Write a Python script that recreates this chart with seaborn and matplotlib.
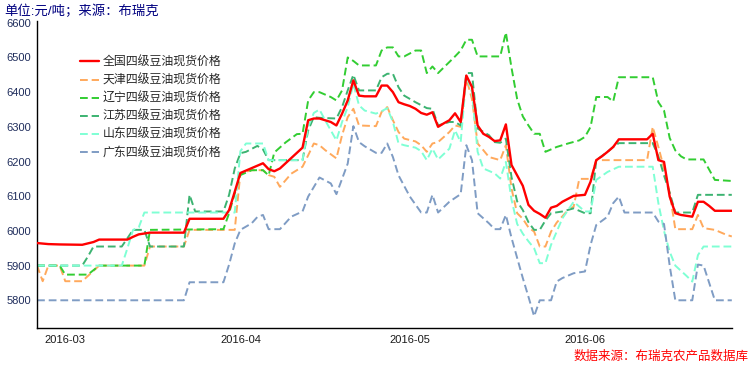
import pandas as pd
import matplotlib
matplotlib.use('Agg')
import matplotlib.pyplot as plt
import matplotlib.dates as mdates
import seaborn as sns

YEAR = '2016-'

# (month-day, price), yuan/ton
national = [('02-25', 5965), ('02-27', 5962), ('02-29', 5961), ('03-04', 5960), ('03-06', 5968), ('03-07', 5975),
            ('03-12', 5975), ('03-13', 5983), ('03-14', 5990), ('03-16', 5995), ('03-22', 5995), ('03-23', 6035),
            ('03-29', 6035), ('03-30', 6060), ('03-31', 6113), ('04-01', 6167), ('04-05', 6195), ('04-06', 6178),
            ('04-07', 6172), ('04-08', 6180), ('04-09', 6195), ('04-10', 6210), ('04-11', 6225), ('04-12', 6240),
            ('04-13', 6319), ('04-14', 6324), ('04-15', 6324), ('04-16', 6319), ('04-17', 6314), ('04-18', 6304),
            ('04-19', 6338), ('04-20', 6376), ('04-21', 6434), ('04-22', 6390), ('04-23', 6388), ('04-25', 6388),
            ('04-26', 6419), ('04-27', 6419), ('04-28', 6400), ('04-29', 6371), ('04-30', 6365), ('05-01', 6360),
            ('05-02', 6352), ('05-03', 6340), ('05-04', 6335), ('05-05', 6342), ('05-06', 6300), ('05-07', 6310),
            ('05-08', 6319), ('05-09', 6339), ('05-10', 6314), ('05-11', 6448), ('05-12', 6415), ('05-13', 6304),
            ('05-14', 6280), ('05-15', 6271), ('05-16', 6259), ('05-17', 6261), ('05-18', 6307), ('05-19', 6190),
            ('05-20', 6160), ('05-21', 6130), ('05-22', 6075), ('05-23', 6058), ('05-24', 6049), ('05-25', 6038),
            ('05-26', 6067), ('05-27', 6072), ('05-28', 6084), ('05-30', 6101), ('06-01', 6104), ('06-02', 6142),
            ('06-03', 6204), ('06-04', 6215), ('06-05', 6228), ('06-06', 6242), ('06-07', 6264), ('06-12', 6264),
            ('06-13', 6280), ('06-14', 6204), ('06-15', 6199), ('06-16', 6099), ('06-17', 6051), ('06-18', 6046),
            ('06-20', 6041), ('06-21', 6084), ('06-22', 6084), ('06-23', 6072), ('06-24', 6058), ('06-27', 6058)]

tianjin = [('02-25', 5900), ('02-26', 5855), ('02-27', 5900), ('02-29', 5900), ('03-01', 5855), ('03-04', 5855),
           ('03-07', 5900), ('03-15', 5900), ('03-16', 5955), ('03-22', 5955), ('03-23', 6003), ('03-31', 6003),
           ('04-01', 6166), ('04-03', 6175), ('04-05', 6175), ('04-06', 6161), ('04-07', 6156), ('04-08', 6127),
           ('04-10', 6165), ('04-11', 6175), ('04-12', 6185), ('04-13', 6218), ('04-14', 6252), ('04-15', 6247),
           ('04-16', 6233), ('04-18', 6209), ('04-19', 6276), ('04-20', 6328), ('04-21', 6352), ('04-22', 6304),
           ('04-25', 6302), ('04-26', 6343), ('04-27', 6357), ('04-28', 6319), ('04-29', 6285), ('04-30', 6266),
           ('05-02', 6258), ('05-03', 6247), ('05-04', 6228), ('05-05', 6252), ('05-06', 6256), ('05-08', 6285),
           ('05-09', 6304), ('05-10', 6300), ('05-11', 6440), ('05-12', 6380), ('05-13', 6252), ('05-14', 6233),
           ('05-15', 6213), ('05-17', 6204), ('05-18', 6247), ('05-19', 6122), ('05-20', 6051), ('05-21', 6035),
           ('05-22', 6010), ('05-23', 5998), ('05-24', 5955), ('05-25', 5955), ('05-26', 5998), ('05-27', 6024),
           ('05-29', 6060), ('05-30', 6070), ('05-31', 6150), ('06-02', 6150), ('06-03', 6204), ('06-12', 6204),
           ('06-13', 6300), ('06-14', 6242), ('06-15', 6180), ('06-16', 6110), ('06-17', 6005), ('06-20', 6005),
           ('06-21', 6046), ('06-22', 6008), ('06-24', 6003), ('06-26', 5989), ('06-27', 5984)]

liaoning = [('02-25', 5900), ('02-29', 5900), ('03-01', 5874), ('03-05', 5874), ('03-07', 5900), ('03-15', 5900),
            ('03-16', 6003), ('03-29', 6005), ('03-30', 6051), ('03-31', 6108), ('04-01', 6161), ('04-03', 6175),
            ('04-05', 6175), ('04-06', 6160), ('04-07', 6226), ('04-09', 6255), ('04-11', 6279), ('04-12', 6280),
            ('04-13', 6376), ('04-14', 6400), ('04-15', 6400), ('04-17', 6386), ('04-18', 6376), ('04-19', 6405),
            ('04-20', 6500), ('04-21', 6490), ('04-22', 6477), ('04-25', 6477), ('04-26', 6520), ('04-27', 6529),
            ('04-28', 6529), ('04-29', 6503), ('04-30', 6503), ('05-02', 6520), ('05-03', 6520), ('05-04', 6455),
            ('05-05', 6474), ('05-06', 6455), ('05-09', 6503), ('05-10', 6520), ('05-11', 6551), ('05-12', 6551),
            ('05-13', 6503), ('05-17', 6503), ('05-18', 6572), ('05-19', 6470), ('05-20', 6380), ('05-21', 6330),
            ('05-22', 6304), ('05-23', 6280), ('05-24', 6280), ('05-25', 6228), ('05-27', 6242), ('05-29', 6252),
            ('05-31', 6261), ('06-01', 6271), ('06-02', 6300), ('06-03', 6386), ('06-05', 6386), ('06-06', 6373),
            ('06-07', 6443), ('06-13', 6443), ('06-14', 6371), ('06-15', 6347), ('06-16', 6268), ('06-17', 6232),
            ('06-18', 6215), ('06-19', 6206), ('06-22', 6206), ('06-24', 6147), ('06-27', 6144)]

jiangsu = [('02-25', 5900), ('03-04', 5900), ('03-05', 5926), ('03-06', 5955), ('03-11', 5955), ('03-12', 5979),
           ('03-13', 6003), ('03-15', 6003), ('03-16', 5955), ('03-22', 5955), ('03-23', 6104), ('03-24', 6056),
           ('03-29', 6056), ('03-30', 6104), ('03-31', 6180), ('04-01', 6224), ('04-02', 6228), ('04-04', 6245),
           ('04-05', 6235), ('04-06', 6204), ('04-12', 6204), ('04-13', 6290), ('04-14', 6328), ('04-15', 6326),
           ('04-18', 6324), ('04-19', 6357), ('04-20', 6405), ('04-21', 6450), ('04-22', 6405), ('04-25', 6405),
           ('04-26', 6443), ('04-27', 6453), ('04-28', 6453), ('04-29', 6414), ('04-30', 6390), ('05-02', 6371),
           ('05-04', 6354), ('05-05', 6352), ('05-06', 6304), ('05-08', 6314), ('05-09', 6314), ('05-10', 6304),
           ('05-11', 6455), ('05-12', 6455), ('05-13', 6295), ('05-15', 6276), ('05-16', 6256), ('05-17', 6254),
           ('05-18', 6266), ('05-19', 6155), ('05-20', 6085), ('05-21', 6060), ('05-22', 6025), ('05-23', 6003),
           ('05-24', 6003), ('05-25', 6030), ('05-26', 6051), ('05-28', 6056), ('05-30', 6065), ('06-01', 6051),
           ('06-02', 6051), ('06-03', 6204), ('06-05', 6228), ('06-06', 6242), ('06-07', 6253), ('06-13', 6253),
           ('06-14', 6215), ('06-15', 6160), ('06-16', 6110), ('06-17', 6053), ('06-20', 6053), ('06-21', 6104),
           ('06-27', 6104)]

shandong = [('02-25', 5900), ('03-11', 5900), ('03-12', 5950), ('03-13', 6003), ('03-14', 6010), ('03-15', 6053),
            ('03-31', 6053), ('04-01', 6230), ('04-02', 6252), ('04-05', 6252), ('04-06', 6204), ('04-12', 6204),
            ('04-13', 6300), ('04-14', 6340), ('04-15', 6350), ('04-16', 6319), ('04-17', 6290), ('04-18', 6261),
            ('04-19', 6314), ('04-20', 6357), ('04-21', 6424), ('04-22', 6362), ('04-23', 6347), ('04-25', 6338),
            ('04-26', 6345), ('04-27', 6354), ('04-28', 6314), ('04-29', 6252), ('04-30', 6247), ('05-02', 6240),
            ('05-03', 6230), ('05-04', 6204), ('05-05', 6237), ('05-06', 6206), ('05-08', 6237), ('05-09', 6290),
            ('05-10', 6256), ('05-11', 6448), ('05-12', 6400), ('05-13', 6228), ('05-14', 6180), ('05-16', 6166),
            ('05-17', 6151), ('05-18', 6199), ('05-19', 6090), ('05-20', 6020), ('05-21', 5992), ('05-22', 5970),
            ('05-23', 5950), ('05-24', 5907), ('05-25', 5907), ('05-26', 5960), ('05-28', 6036), ('05-30', 6084),
            ('06-01', 6056), ('06-02', 6056), ('06-03', 6147), ('06-05', 6170), ('06-07', 6185), ('06-13', 6185),
            ('06-14', 6080), ('06-15', 6000), ('06-16', 5940), ('06-17', 5900), ('06-19', 5870), ('06-20', 5854),
            ('06-21', 5930), ('06-22', 5955), ('06-27', 5955)]

guangdong = [('02-25', 5800), ('03-22', 5800), ('03-23', 5852), ('03-29', 5852), ('03-30', 5903), ('03-31', 5964),
             ('04-01', 6003), ('04-03', 6022), ('04-04', 6040), ('04-05', 6046), ('04-06', 6005), ('04-08', 6005),
             ('04-10', 6041), ('04-12', 6056), ('04-13', 6099), ('04-15', 6154), ('04-17', 6137), ('04-18', 6106),
             ('04-20', 6194), ('04-21', 6302), ('04-22', 6256), ('04-23', 6244), ('04-25', 6225), ('04-26', 6225),
             ('04-27', 6252), ('04-28', 6213), ('04-29', 6160), ('05-01', 6099), ('05-03', 6053), ('05-04', 6053),
             ('05-05', 6104), ('05-06', 6053), ('05-08', 6084), ('05-10', 6106), ('05-11', 6247), ('05-12', 6204),
             ('05-13', 6051), ('05-15', 6022), ('05-16', 6005), ('05-17', 6005), ('05-18', 6046), ('05-19', 5980),
             ('05-20', 5922), ('05-21', 5864), ('05-22', 5810), ('05-23', 5754), ('05-24', 5800), ('05-26', 5800),
             ('05-27', 5854), ('05-28', 5864), ('05-30', 5878), ('06-01', 5883), ('06-02', 5960), ('06-03', 6017),
             ('06-05', 6041), ('06-06', 6080), ('06-07', 6099), ('06-08', 6053), ('06-13', 6053), ('06-14', 6027),
             ('06-15', 6020), ('06-16', 5900), ('06-17', 5800), ('06-20', 5800), ('06-21', 5903), ('06-22', 5900),
             ('06-24', 5800), ('06-27', 5800)]

labels = ['全国四级豆油现货价格', '天津四级豆油现货价格', '辽宁四级豆油现货价格',
          '江苏四级豆油现货价格', '山东四级豆油现货价格', '广东四级豆油现货价格']
series = [national, tianjin, liaoning, jiangsu, shandong, guangdong]
colors = ['#ff0000', '#ffa95c', '#32cd32', '#3cb371', '#7fffd4', '#7f9cc4']

frames = []
for name, pts in zip(labels, series):
    d = pd.DataFrame(pts, columns=['day', 'price'])
    d['date'] = pd.to_datetime(YEAR + d['day'])
    d['name'] = name
    frames.append(d)
df = pd.concat(frames, ignore_index=True)

sns.set_style('white')
plt.rcParams['font.family'] = ['Liberation Sans', 'Noto Sans CJK SC', 'DejaVu Sans']

fig = plt.figure(figsize=(7.56, 3.69), dpi=100)
ax = fig.add_axes([0.049, 0.111, 0.919, 0.832])

# draw dashed regions first, national line on top
order = [1, 2, 3, 4, 5, 0]
for i in order:
    sub = df[df['name'] == labels[i]]
    if i == 0:
        sns.lineplot(data=sub, x='date', y='price', color=colors[i], lw=1.7, ax=ax,
                     label=labels[i], zorder=10)
    else:
        sns.lineplot(data=sub, x='date', y='price', color=colors[i], lw=1.4, ax=ax,
                     label=labels[i], linestyle=(0, (4, 2)))

ax.set_xlim(pd.Timestamp('2016-02-25'), pd.Timestamp('2016-06-27'))
ax.set_ylim(5720, 6605)
ax.set_yticks([5800, 5900, 6000, 6100, 6200, 6300, 6400, 6500, 6600])
ax.xaxis.set_major_locator(mdates.MonthLocator())
ax.xaxis.set_major_formatter(mdates.DateFormatter('%Y-%m'))
ax.set_xlabel('')
ax.set_ylabel('')
sns.despine(ax=ax)
for s in ['left', 'bottom']:
    ax.spines[s].set_color('black')
    ax.spines[s].set_linewidth(1.0)
ax.tick_params(axis='y', direction='out', length=3, width=0.8, labelsize=8, colors='#1a1a1a',
               labelcolor='#1f2d5c', pad=1)
ax.tick_params(axis='x', direction='in', length=3, width=0.8, labelsize=8, labelcolor='#1a1a1a', pad=5)

handles, labs = ax.get_legend_handles_labels()
hmap = dict(zip(labs, handles))
ax.legend([hmap[l] for l in labels], labels, loc='upper left', bbox_to_anchor=(0.055, 0.9),
          frameon=False, fontsize=8.6, handlelength=1.6, handletextpad=0.3, labelspacing=0.5,
          borderaxespad=0)

fig.text(0.006, 0.988, '单位:元/吨；来源：布瑞克', color='#000080', fontsize=9.6, ha='left', va='top')
fig.text(0.99, 0.018, '数据来源：布瑞克农产品数据库', color='red', fontsize=9, ha='right', va='bottom')

fig.savefig('out.png', dpi=100)
